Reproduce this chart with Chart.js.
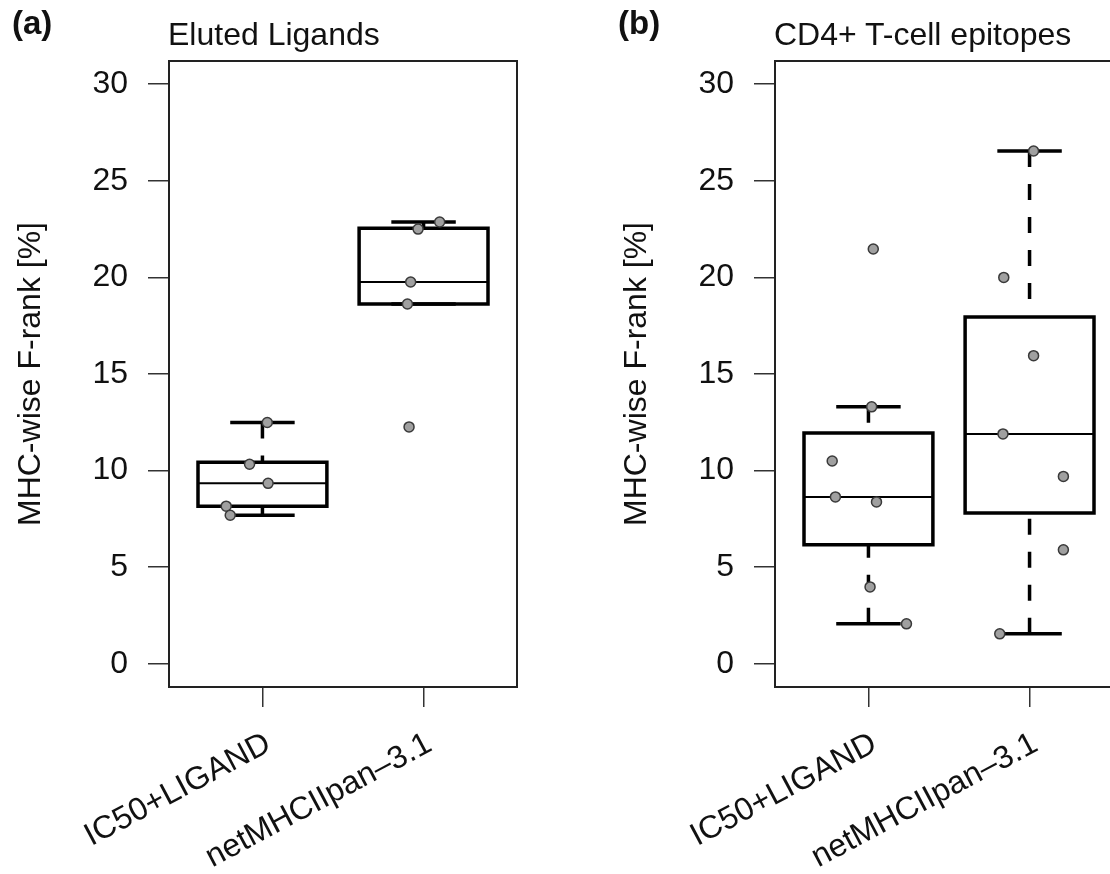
<!DOCTYPE html>
<html>
<head>
<meta charset="utf-8">
<title>MHC-wise F-rank</title>
<script src="https://cdn.jsdelivr.net/npm/chart.js@4.4.1/dist/chart.umd.min.js"></script>
<style>
    html, body { margin: 0; padding: 0; background: #fff; }
    #page { position: relative; width: 1110px; height: 874px; overflow: hidden;
            font-family: 'Liberation Sans', Arial, Helvetica, sans-serif; color: #111; }
    .panel { position: absolute; top: 0; width: 606px; height: 874px; }
    .panel canvas { display: block; }
    .tag { position: absolute; font-weight: bold; font-size: 33px; line-height: 33px; }
    .title { position: absolute; font-size: 32px; line-height: 32px; white-space: nowrap; }
</style>
</head>
<body>
<div id="page">
    <div class="panel" style="left:0"><canvas id="chart-a" width="606" height="874"></canvas></div>
    <div class="panel" style="left:606px"><canvas id="chart-b" width="606" height="874"></canvas></div>
    <div class="tag" style="left:12px;top:6px">(a)</div>
    <div class="title" style="left:168px;top:18px">Eluted Ligands</div>
    <div class="tag" style="left:618px;top:6px">(b)</div>
    <div class="title" style="left:774px;top:18px">CD4+ T-cell epitopes</div>
</div>
<script>
var categories = ['IC50+LIGAND', 'netMHCIIpan\u20133.1'];
var yTicks = [0, 5, 10, 15, 20, 25, 30];

// (a) eluted ligands - box stats per category
var elutedLow = [7.69, 18.62];
var elutedQ1 = [8.16, 18.62];
var elutedMedian = [9.34, 19.76];
var elutedQ3 = [10.43, 22.55];
var elutedHigh = [12.49, 22.87];
// single values + their jittered x (in category units)
var elutedIC50 = [12.49, 10.33, 9.34, 8.16, 7.69];
var elutedIC50X = [1.03, 0.92, 1.035, 0.775, 0.80];
var elutedNet = [22.87, 22.5, 19.76, 18.62, 12.26];
var elutedNetX = [2.10, 1.966, 1.92, 1.90, 1.91];

// (b) CD4+ T-cell epitopes
var epitopeLow = [2.07, 1.55];
var epitopeQ1 = [6.16, 7.8];
var epitopeMedian = [8.64, 11.9];
var epitopeQ3 = [11.95, 17.95];
var epitopeHigh = [13.3, 26.54];
var epitopeIC50 = [21.47, 13.3, 10.5, 8.64, 8.38, 3.98, 2.07];
var epitopeIC50X = [1.03, 1.02, 0.775, 0.795, 1.05, 1.01, 1.236];
var epitopeNet = [26.54, 20.0, 15.95, 11.9, 9.7, 5.9, 1.55];
var epitopeNetX = [2.025, 1.84, 2.025, 1.835, 2.21, 2.21, 1.815];

var BOX_HALF = 0.4;
var CAP_HALF = 0.2;

Chart.defaults.font.family = "'Liberation Sans', Arial, Helvetica, sans-serif";
Chart.defaults.font.size = 32;
Chart.defaults.color = '#111';

function lineSet(data, width, dash) {
    return {
        data: data, showLine: true, spanGaps: false, fill: false,
        borderColor: '#000', borderWidth: width, borderDash: dash || [],
        borderCapStyle: 'butt', borderJoinStyle: 'miter',
        pointRadius: 0, pointHoverRadius: 0, order: 1
    };
}

function boxDatasets(low, q1, med, q3, high) {
    var boxes = [], medians = [], whiskers = [], caps = [];
    for (var i = 0; i < categories.length; i++) {
        var c = i + 1;
        boxes.push({x: c - BOX_HALF, y: q1[i]}, {x: c + BOX_HALF, y: q1[i]},
            {x: c + BOX_HALF, y: q3[i]}, {x: c - BOX_HALF, y: q3[i]},
            {x: c - BOX_HALF, y: q1[i]}, {x: c + BOX_HALF, y: q1[i]}, {x: c, y: null});
        medians.push({x: c - BOX_HALF, y: med[i]}, {x: c + BOX_HALF, y: med[i]}, {x: c, y: null});
        // whiskers start at the cap, like R does
        whiskers.push({x: c, y: low[i]}, {x: c, y: q1[i]}, {x: c, y: null},
            {x: c, y: high[i]}, {x: c, y: q3[i]}, {x: c, y: null});
        caps.push({x: c - CAP_HALF, y: low[i]}, {x: c + CAP_HALF, y: low[i]}, {x: c, y: null},
            {x: c - CAP_HALF, y: high[i]}, {x: c + CAP_HALF, y: high[i]}, {x: c, y: null});
    }
    return [
        lineSet(boxes, 3.5),
        lineSet(medians, 2),
        lineSet(whiskers, 3.5, [16, 17]),
        lineSet(caps, 3.5)
    ];
}

function pointSet(ys, xs) {
    var pts = [];
    for (var i = 0; i < ys.length; i++) {
        pts.push({x: xs[i], y: ys[i]});
    }
    return pts;
}

var framePlugin = {
    id: 'frame',
    beforeDatasetsDraw: function (chart) {
        var a = chart.chartArea, ctx = chart.ctx;
        ctx.save();
        ctx.strokeStyle = '#222';
        ctx.lineWidth = 2;
        ctx.strokeRect(a.left, a.top, a.right - a.left, a.bottom - a.top);
        ctx.restore();
    }
};

function makeChart(id, stats, points) {
    var datasets = boxDatasets.apply(null, stats);
    datasets.push({
        data: points, showLine: false, order: 0,
        pointRadius: 5, pointHoverRadius: 5,
        pointBackgroundColor: '#a0a0a0', pointBorderColor: '#3a3a3a', pointBorderWidth: 1.5
    });

    return new Chart(document.getElementById(id), {
        type: 'scatter',
        data: {datasets: datasets},
        options: {
            responsive: false,
            animation: false,
            events: [],
            layout: {padding: {top: 61, right: 89, left: 0, bottom: 0}},
            plugins: {legend: {display: false}, tooltip: {enabled: false}},
            scales: {
                x: {
                    type: 'linear', min: 0.42, max: 2.58,
                    afterBuildTicks: function (s) {
                        s.ticks = categories.map(function (c, i) { return {value: i + 1}; });
                    },
                    afterFit: function (s) { s.height = 187; s.paddingLeft = 0; s.paddingRight = 0; },
                    ticks: {
                        autoSkip: false, minRotation: 28, maxRotation: 28,
                        padding: 18, labelOffset: 6, color: '#111',
                        callback: function (v) { return categories[Math.round(v) - 1]; }
                    },
                    grid: {drawOnChartArea: false, drawTicks: true, tickLength: 20, color: '#333', lineWidth: 1.5},
                    border: {display: false}
                },
                y: {
                    type: 'linear', min: -1.2, max: 31.2,
                    afterBuildTicks: function (s) {
                        s.ticks = yTicks.map(function (v) { return {value: v}; });
                    },
                    afterFit: function (s) { s.width = 169; },
                    ticks: {padding: 20, color: '#111'},
                    grid: {drawOnChartArea: false, drawTicks: true, tickLength: 21, color: '#333', lineWidth: 1.5},
                    border: {display: false},
                    title: {
                        display: true, text: 'MHC-wise F-rank [%]', color: '#111',
                        padding: {top: 12, bottom: 0}
                    }
                }
            }
        },
        plugins: [framePlugin]
    });
}

makeChart('chart-a',
    [elutedLow, elutedQ1, elutedMedian, elutedQ3, elutedHigh],
    pointSet(elutedIC50, elutedIC50X).concat(pointSet(elutedNet, elutedNetX)));

makeChart('chart-b',
    [epitopeLow, epitopeQ1, epitopeMedian, epitopeQ3, epitopeHigh],
    pointSet(epitopeIC50, epitopeIC50X).concat(pointSet(epitopeNet, epitopeNetX)));
</script>
</body>
</html>
